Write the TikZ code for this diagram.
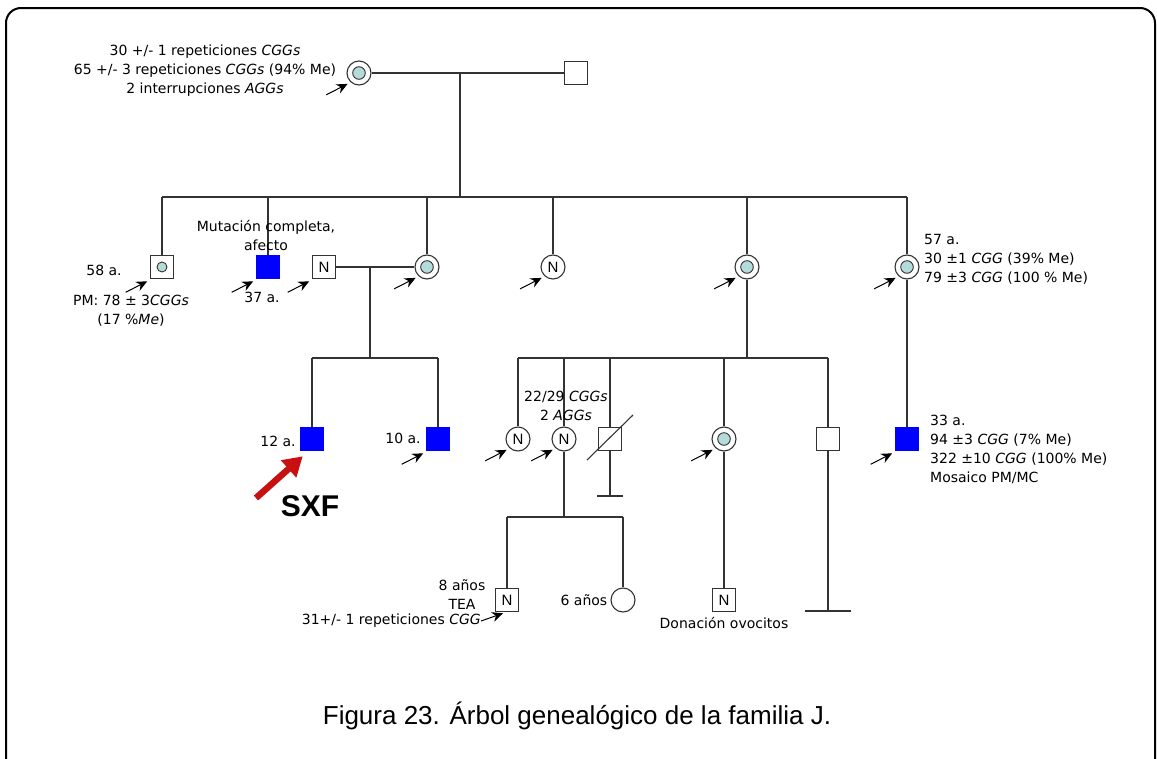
\documentclass[tikz,border=0pt]{standalone}
\usepackage{fontspec}
\setmainfont{DejaVu Sans}
\newfontfamily\arialfont{Liberation Sans}
\usetikzlibrary{positioning, arrows.meta, calc}
\definecolor{affblue}{RGB}{0,0,255}
\definecolor{carrier}{RGB}{180,218,218}
\definecolor{sxfred}{RGB}{200,16,16}

\begin{document}
\begin{tikzpicture}[x=1pt, y=-1pt,
  lin/.style={draw=black!80, line width=1.1pt},
  male/.style={draw=black!80, line width=1.1pt, rectangle, minimum size=23.5pt, inner sep=0pt, fill=white},
  female/.style={draw=black!80, line width=1.1pt, circle, minimum size=24pt, inner sep=0pt, fill=white},
  affm/.style={male, fill=affblue, draw=affblue},
  cfem/.style={female, path picture={\draw[fill=carrier, line width=0.9pt] (path picture bounding box.center) circle (6.3pt);}},
  cmale/.style={male, path picture={\draw[fill=carrier, line width=0.9pt] (path picture bounding box.center) circle (5pt);}},
  nlab/.style={font=\arialfont\fontsize{15}{15}\selectfont},
  txt/.style={font=\fontsize{14}{19}\selectfont, inner sep=0pt, align=center},
  ptr/.style={-{Stealth[length=11pt, width=10pt]}, line width=1pt, black},
  sxfarrow/.style={-{Triangle[length=19pt, width=22pt]}, line width=6.5pt, sxfred},
]
  \useasboundingbox (0,0) rectangle (1157,758);
  \draw[line width=2pt, rounded corners=15pt] (6,8) rectangle (1155,775);

  \node[cfem] (i1) at (359,73) {};
  \node[male] (i2) at (576,73) {};
  \coordinate (m1) at (460,73);
  \coordinate (s1) at (460,197);
  \draw[lin] (i1) -- (i2);
  \draw[lin] (m1) -- (s1);

  \node[cmale] (ii1) at (162,267) {};
  \node[affm] (ii2) at (268,267) {};
  \node[male, nlab] (ii3) at (324,267) {N};
  \node[cfem] (ii4) at (427,267) {};
  \node[female, nlab] (ii5) at (553,267) {N};
  \node[cfem] (ii6) at (747,267) {};
  \node[cfem] (ii7) at (907,267) {};
  \draw[lin] (ii1 |- s1) -- (ii7 |- s1);
  \foreach \n in {ii1,ii2,ii4,ii5,ii6,ii7}
    \draw[lin] (\n |- s1) -- (\n);

  \coordinate (m2) at (370,267);
  \coordinate (s2) at (370,358);
  \draw[lin] (ii3) -- (ii4);
  \draw[lin] (m2) -- (s2);
  \node[affm] (iii1) at (312,439) {};
  \node[affm] (iii2) at (438,439) {};
  \draw[lin] (iii1 |- s2) -- (iii2 |- s2);
  \foreach \n in {iii1,iii2}
    \draw[lin] (\n |- s2) -- (\n);

  \coordinate (s3) at (747,358);
  \draw[lin] (ii6) -- (s3);
  \node[female, nlab] (iii3) at (518,439) {N};
  \node[female, nlab] (iii4) at (564,439) {N};
  \node[male] (iii5) at (610,439) {};
  \node[cfem] (iii6) at (724,439) {};
  \node[male] (iii7) at (828,439) {};
  \draw[lin] (iii3 |- s3) -- (iii7 |- s3);
  \foreach \n in {iii3,iii4,iii5,iii6,iii7}
    \draw[lin] (\n |- s3) -- (\n);
  \draw[lin] ($(iii5)+(-23,21)$) -- ($(iii5)+(23,-24)$);
  \coordinate (no1) at (610,496);
  \draw[lin] (iii5) -- (no1);
  \draw[lin] ($(no1)+(-13,0)$) -- ($(no1)+(13,0)$);
  \coordinate (no2) at (828,611);
  \draw[lin] (iii7) -- (no2);
  \draw[lin] ($(no2)+(-23,0)$) -- ($(no2)+(23,0)$);
  \node[affm] (iii8) at (907,439) {};
  \draw[lin] (ii7) -- (iii8);

  \coordinate (s4) at (564,517);
  \draw[lin] (iii4) -- (s4);
  \node[male, nlab] (iv1) at (507,600) {N};
  \node[female] (iv2) at (623,600) {};
  \draw[lin] (iv1 |- s4) -- (iv2 |- s4);
  \foreach \n in {iv1,iv2}
    \draw[lin] (\n |- s4) -- (\n);
  \node[male, nlab] (iv3) at (724,600) {N};
  \draw[lin] (iii6) -- (iv3);

  \foreach \n in {i1,ii1,ii2,ii3,ii4,ii5,ii6,ii7,iii2,iii3,iii4,iii6,iii8}
    \draw[ptr] ($(\n.south west)+(-24,13)$) -- ($(\n.south west)+(-2.5,2)$);

  \node[txt] (ti1) at (205,71) {30 +/- 1 repeticiones \textit{CGGs}\\65 +/- 3 repeticiones \textit{CGGs} (94\% Me)\\2 interrupciones \textit{AGGs}};
  \node[txt] (t58) at (104,270) {58 a.};
  \node[txt] (tpm) at (131,311) {PM: 78 ± 3\textit{CGGs}\\(17 \%\textit{Me})};
  \node[txt] (tmut) at (266,235) {Mutación completa,\\afecto};
  \node[txt] (t37) at (262,297) {37 a.};
  \node[txt, align=left, anchor=west] (t57) at (924,259) {57 a.\\30 ±1 \textit{CGG} (39\% Me)\\79 ±3 \textit{CGG} (100 \% Me)};
  \node[txt] (t12) at (278,441) {12 a.};
  \node[txt] (t10) at (403,438) {10 a.};
  \node[font=\arialfont\bfseries\fontsize{30}{30}\selectfont, inner sep=0pt] (sxf) at (310,506) {SXF};
  \coordinate (sxft) at (256,498);
  \draw[sxfarrow] (sxft) -- ($(iii1.south west)+(3,5)$);
  \node[txt] (t2229) at (566,406) {22/29 \textit{CGGs}\\2 \textit{AGGs}};
  \node[txt, align=left, anchor=west] (t33) at (930,449) {33 a.\\94 ±3 \textit{CGG} (7\% Me)\\322 ±10 \textit{CGG} (100\% Me)\\Mosaico PM/MC};
  \node[txt] (t8) at (462,595) {8 años\\TEA};
  \node[txt, anchor=east] (t41) at (481,621) {31+/- 1 repeticiones \textit{CGG}};
  \draw[ptr] (t41.east) -- ($(iv1.south)+(-4,1)$);
  \node[txt, left=3pt of iv2] (t6) {6 años};
  \node[txt, below=5pt of iv3] (tdon) {Donación ovocitos};
  \node[font=\arialfont\fontsize{26}{30}\selectfont] (cap) at (577,716) {Figura 23. Árbol genealógico de la familia J.};
\end{tikzpicture}
\end{document}
